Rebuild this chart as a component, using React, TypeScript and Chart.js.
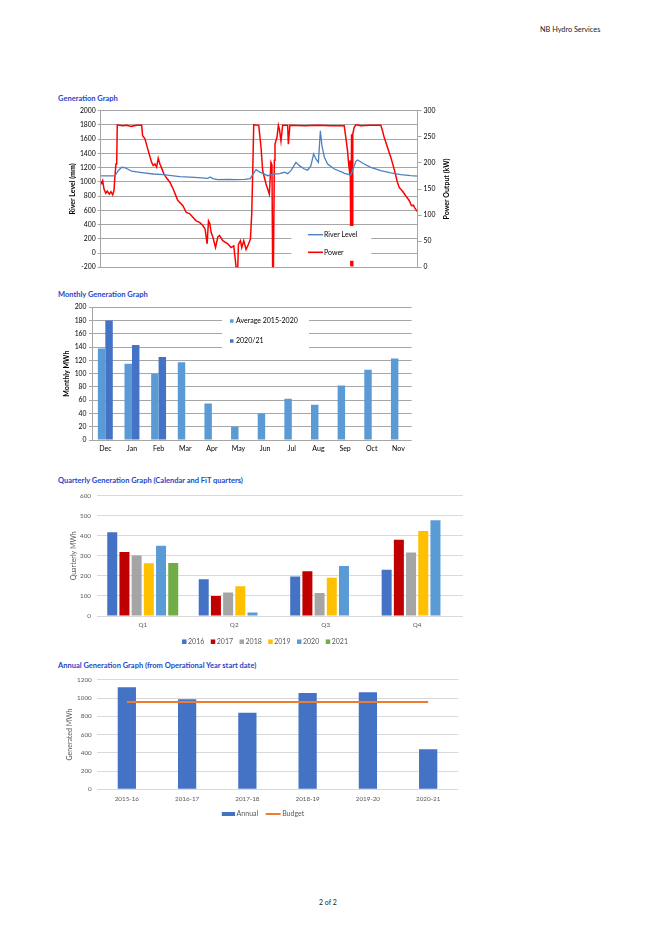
import React, { useEffect, useRef } from 'react';
import { Chart, registerables } from 'chart.js';

Chart.register(...registerables);
Chart.defaults.font.family = 'Lato, "DejaVu Sans", sans-serif';

// ---------------- Generation graph (time in days across the period) ----------------
const riverDays = [0, 16.4, 20.2, 24.2, 27.9, 35.7, 45.2, 60.5, 72, 91.2, 108.1, 123.4, 126, 129.1, 134.9, 146.4, 156, 165.6, 172.5, 175.1, 179, 182.9, 186.6, 192.4, 200.1, 206.2, 211.6, 215.4, 219.2, 225, 228.9, 234.6, 238.4, 242.2, 245.3, 248, 250.8, 253.1, 254.9, 257.7, 261.5, 269.2, 278.7, 280.6, 288.2, 294, 296, 303.6, 311.2, 322.7, 334.2, 345.7, 357.2, 365];
const riverLevelMm = [1085, 1085, 1157, 1205, 1200, 1150, 1135, 1111, 1102, 1073, 1064, 1050, 1068, 1045, 1031, 1036, 1031, 1036, 1045, 1101, 1171, 1140, 1120, 1087, 1111, 1115, 1135, 1115, 1157, 1275, 1228, 1181, 1165, 1228, 1392, 1322, 1275, 1719, 1508, 1345, 1251, 1181, 1135, 1120, 1097, 1289, 1307, 1251, 1205, 1157, 1125, 1102, 1087, 1082];

const powerDays = [0, 1.2, 2.3, 3.8, 5.8, 7.6, 9.9, 11.8, 13.8, 15.3, 16.4, 17.6, 18.4, 19.1, 25, 30, 35, 41.4, 47.2, 48.3, 51, 54.8, 58.7, 60.5, 62.5, 64.4, 66.3, 68.2, 70.2, 72.8, 75.9, 79.7, 83.5, 87.4, 88.9, 94.7, 98.5, 102.4, 106.2, 110, 113.9, 117.7, 120.3, 122.6, 124.2, 125.7, 127.2, 129.2, 132.3, 134.9, 136.9, 140.7, 146.4, 150.2, 153.3, 154.8, 156, 157.9, 158.7, 161, 162.5, 164.8, 167.5, 170.2, 172.5, 174, 175.2, 176.3, 182.1, 184.7, 186.6, 190.4, 194.3, 196.2, 197.3, 198.1, 199, 200.1, 200.8, 203.1, 204.7, 205.9, 207.7, 209.6, 215.4, 216.2, 218, 235, 250, 265, 280.6, 282.4, 284.4, 285.5, 286.4, 287.5, 288.2, 289, 289.6, 290.4, 292.1, 294, 300, 310, 322.7, 324.6, 326.6, 330.4, 334.2, 338.1, 341.9, 343.9, 347.6, 351.4, 355.4, 358, 360.3, 361.8, 363.4, 365];
const powerKw = [165, 161, 166, 150, 142, 146, 140, 145, 139, 147, 175, 198, 198, 273, 271, 272, 270, 272, 272, 252, 246, 223, 201, 195, 198, 192, 209, 198, 190, 179, 171, 163, 150, 134, 128, 118, 105, 103, 96, 89, 86, 80, 73, 45, 89, 84, 67, 58, 38, 58, 61, 51, 45, 38, 41, 19, 0, 0, 44, 51, 38, 51, 34, 44, 54, 102, 185, 273, 272, 230, 185, 160, 140, 201, 196, 0, 0, 205, 236, 249, 272, 265, 242, 272, 272, 236, 272, 271, 272, 271, 271, 249, 223, 201, 188, 205, 2, 255, 3, 255, 268, 273, 271, 272, 272, 262, 249, 230, 211, 188, 163, 153, 146, 137, 128, 118, 119, 114, 110, 107];

// ---------------- Monthly generation ----------------
const months = ['Dec', 'Jan', 'Feb', 'Mar', 'Apr', 'May', 'Jun', 'Jul', 'Aug', 'Sep', 'Oct', 'Nov'];
const avgMonthlyMwh = [138, 115, 100, 117, 55, 20, 40, 62, 53, 82, 106, 123];
const monthly2020_21Mwh = [180, 143, 125, null, null, null, null, null, null, null, null, null];

// ---------------- Quarterly generation ----------------
const quarters = ['Q1', 'Q2', 'Q3', 'Q4'];
const q2016 = [418, 183, 197, 231];
const q2017 = [320, 100, 223, 380];
const q2018 = [302, 117, 115, 317];
const q2019 = [263, 148, 191, 424];
const q2020 = [350, 17, 250, 478];
const q2021 = [265, null, null, null];

// ---------------- Annual generation ----------------
const opYears = ['2015-16', '2016-17', '2017-18', '2018-19', '2019-20', '2020-21'];
const annualMwh = [1117, 986, 838, 1055, 1062, 440];
const budgetMwh = [957, 957, 957, 957, 957, 957];

const FONT = 'Lato, "DejaVu Sans", sans-serif';
const plain = (v: any) => String(v);

type LegendItem = { ds: number; kind: 'line' | 'rect'; w: number; h: number; x?: number; y?: number };
type LegendCfg = {
  id: string;
  box?: { left: number; top: number; right: number; bottom: number };
  items: LegendItem[];
  row?: { centerX: number; y: number; gap: number };
  fontSize: number;
  color: string;
  textGap: number;
};

function makeLegend(cfg: LegendCfg) {
  return {
    id: cfg.id,
    afterDatasetsDraw(chart: any) {
      const ctx = chart.ctx;
      ctx.save();
      if (cfg.box) {
        ctx.fillStyle = '#ffffff';
        ctx.fillRect(cfg.box.left, cfg.box.top, cfg.box.right - cfg.box.left, cfg.box.bottom - cfg.box.top);
      }
      ctx.font = `${cfg.fontSize}px ${FONT}`;
      ctx.textBaseline = 'middle';
      ctx.textAlign = 'left';
      const dsets = chart.data.datasets;
      const entries = cfg.items.map((it) => {
        const d = dsets[it.ds];
        const col = (it.kind === 'line' ? d.borderColor : d.backgroundColor) as string;
        return { ...it, label: d.label as string, color: col };
      });
      if (cfg.row) {
        const widths = entries.map((e) => e.w + cfg.textGap + ctx.measureText(e.label).width);
        const total = widths.reduce((a, b) => a + b, 0) + cfg.row.gap * (entries.length - 1);
        let x = cfg.row.centerX - total / 2;
        entries.forEach((e, i) => {
          e.x = x;
          e.y = cfg.row!.y;
          x += widths[i] + cfg.row!.gap;
        });
      }
      entries.forEach((e) => {
        const x = e.x as number;
        const y = e.y as number;
        if (e.kind === 'line') {
          ctx.strokeStyle = e.color;
          ctx.lineWidth = e.h;
          ctx.beginPath();
          ctx.moveTo(x, y);
          ctx.lineTo(x + e.w, y);
          ctx.stroke();
        } else {
          ctx.fillStyle = e.color;
          ctx.fillRect(x, y - e.h / 2, e.w, e.h);
        }
        ctx.fillStyle = cfg.color;
        ctx.fillText(e.label, x + e.w + cfg.textGap, y);
      });
      ctx.restore();
    },
  };
}

function makeSideTitle(id: string, text: string, offsetRight: number, size: number) {
  return {
    id,
    afterDraw(chart: any) {
      const ctx = chart.ctx;
      const a = chart.chartArea;
      ctx.save();
      ctx.translate(a.right + offsetRight, (a.top + a.bottom) / 2);
      ctx.rotate(-Math.PI / 2);
      ctx.font = `bold ${size}px ${FONT}`;
      ctx.fillStyle = '#000';
      ctx.textAlign = 'center';
      ctx.textBaseline = 'middle';
      ctx.fillText(text, 0, 0);
      ctx.restore();
    },
  };
}

const Txt = ({ x, y, size, weight, color, children }: any) => (
  <div
    style={{
      position: 'absolute',
      left: x,
      top: y - size * 0.6,
      fontSize: size,
      lineHeight: `${size * 1.2}px`,
      fontWeight: weight || 'normal',
      color: color || '#333',
      whiteSpace: 'nowrap',
      fontFamily: FONT,
    }}
  >
    {children}
  </div>
);

const TITLE_BLUE = '#2347C7';
const DARK_GRID = '#A6A6A6';
const LIGHT_GRID = '#D9D9D9';
const GRAY_TEXT = '#595959';

export default function App() {
  const c1 = useRef<HTMLCanvasElement>(null);
  const c2 = useRef<HTMLCanvasElement>(null);
  const c3 = useRef<HTMLCanvasElement>(null);
  const c4 = useRef<HTMLCanvasElement>(null);

  useEffect(() => {
    const charts: Chart[] = [];

    // ---- Chart 1: Generation graph ----
    charts.push(
      new Chart(c1.current as HTMLCanvasElement, {
        type: 'line',
        data: {
          datasets: [
            {
              label: 'River Level',
              data: riverDays.map((d, i) => ({ x: d, y: riverLevelMm[i] })),
              yAxisID: 'y',
              borderColor: '#4F81BD',
              backgroundColor: '#4F81BD',
              borderWidth: 1.3,
              pointRadius: 0,
              tension: 0,
            },
            {
              label: 'Power',
              data: powerDays.map((d, i) => ({ x: d, y: powerKw[i] })),
              yAxisID: 'y1',
              borderColor: '#FF0000',
              backgroundColor: '#FF0000',
              borderWidth: 1.5,
              pointRadius: 0,
              tension: 0,
            },
          ],
        },
        options: {
          responsive: false,
          animation: false,
          events: [],
          layout: { padding: { left: 0, right: 0, top: 10.7, bottom: 7.7 } },
          plugins: { legend: { display: false }, tooltip: { enabled: false } },
          scales: {
            x: { type: 'linear', min: 0, max: 365, display: false },
            y: {
              position: 'left',
              min: -200,
              max: 2000,
              ticks: { stepSize: 200, color: '#000', font: { size: 6.8 }, padding: 2, callback: plain },
              grid: { color: DARK_GRID, tickLength: 3 },
              border: { display: true, color: DARK_GRID },
              title: { display: true, text: 'River Level (mm)', color: '#000', font: { size: 7, weight: 'bold' }, padding: { top: 12.1, bottom: 0 } },
              afterFit: (s: any) => { s.width = 44.7; },
            },
            y1: {
              position: 'right',
              min: 0,
              max: 300,
              ticks: { stepSize: 50, color: '#000', font: { size: 6.8 }, padding: 2, callback: plain },
              grid: { drawOnChartArea: false, color: DARK_GRID, tickLength: 4 },
              border: { display: true, color: DARK_GRID },
              afterFit: (s: any) => { s.width = 42.5; },
            },
          },
        } as any,
        plugins: [
          makeLegend({
            id: 'legend1',
            box: { left: 235.3, top: 126, right: 315.3, bottom: 160.8 },
            items: [
              { ds: 0, kind: 'line', w: 15, h: 1.4, x: 252, y: 134.7 },
              { ds: 1, kind: 'line', w: 15, h: 1.6, x: 252, y: 152.3 },
            ],
            fontSize: 7,
            color: '#000',
            textGap: 1,
          }),
          makeSideTitle('sideTitle1', 'Power Output (kW)', 28.8, 7),
        ],
      })
    );

    // ---- Chart 2: Monthly generation ----
    charts.push(
      new Chart(c2.current as HTMLCanvasElement, {
        type: 'bar',
        data: {
          labels: months,
          datasets: [
            { label: 'Average 2015-2020', data: avgMonthlyMwh, backgroundColor: '#5B9BD5', borderColor: '#5B9BD5' },
            { label: '2020/21', data: monthly2020_21Mwh, backgroundColor: '#4472C4', borderColor: '#4472C4' },
          ],
        },
        options: {
          responsive: false,
          animation: false,
          events: [],
          datasets: { bar: { categoryPercentage: 0.56, barPercentage: 1 } },
          layout: { padding: { left: 0, right: 6.3, top: 9.3, bottom: 0 } },
          plugins: { legend: { display: false }, tooltip: { enabled: false } },
          scales: {
            x: {
              grid: { display: false, drawTicks: false },
              border: { display: false },
              ticks: { color: '#000', font: { size: 7 }, padding: 5 },
              afterFit: (s: any) => { s.height = 18; },
            },
            y: {
              min: 0,
              max: 200,
              ticks: { stepSize: 20, color: '#000', font: { size: 6.8 }, padding: 2.5, callback: plain },
              grid: { color: DARK_GRID, tickLength: 3 },
              border: { display: true, color: DARK_GRID },
              title: { display: true, text: 'Monthly MWh', color: '#000', font: { size: 7, weight: 'bold' }, padding: { top: 6.5, bottom: 0 } },
              afterFit: (s: any) => { s.width = 36; },
            },
          },
        } as any,
        plugins: [
          makeLegend({
            id: 'legend2',
            box: { left: 166, top: 15, right: 253, bottom: 52 },
            items: [
              { ds: 0, kind: 'rect', w: 3.5, h: 3.5, x: 174, y: 23 },
              { ds: 1, kind: 'rect', w: 3.5, h: 3.5, x: 174, y: 43 },
            ],
            fontSize: 7,
            color: '#000',
            textGap: 2.5,
          }),
        ],
      })
    );

    // ---- Chart 3: Quarterly generation ----
    const yearCols = ['#4472C4', '#C00000', '#A5A5A5', '#FFC000', '#5B9BD5', '#70AD47'];
    const qSeries = [q2016, q2017, q2018, q2019, q2020, q2021];
    const qLabels = ['2016', '2017', '2018', '2019', '2020', '2021'];
    charts.push(
      new Chart(c3.current as HTMLCanvasElement, {
        type: 'bar',
        data: {
          labels: quarters,
          datasets: qSeries.map((s, i) => ({ label: qLabels[i], data: s, backgroundColor: yearCols[i], borderColor: yearCols[i] })),
        },
        options: {
          responsive: false,
          animation: false,
          events: [],
          datasets: { bar: { categoryPercentage: 0.8, barPercentage: 0.82 } },
          layout: { padding: { left: 0, right: 5.1, top: 8, bottom: 0 } },
          plugins: { legend: { display: false }, tooltip: { enabled: false } },
          scales: {
            x: {
              grid: { display: false, drawTicks: false },
              border: { display: false },
              ticks: { color: GRAY_TEXT, font: { size: 6.3 }, padding: 5 },
              afterFit: (s: any) => { s.height = 34; },
            },
            y: {
              min: 0,
              max: 600,
              ticks: { stepSize: 100, color: GRAY_TEXT, font: { size: 6.3 }, padding: 6, callback: plain },
              grid: { color: LIGHT_GRID, drawTicks: false },
              border: { display: false },
              title: { display: true, text: 'Quarterly MWh', color: GRAY_TEXT, font: { size: 7 }, padding: { top: 13.1, bottom: 0 } },
              afterFit: (s: any) => { s.width = 41; },
            },
          },
        } as any,
        plugins: [
          makeLegend({
            id: 'legend3',
            items: qLabels.map((_, i) => ({ ds: i, kind: 'rect' as const, w: 4.5, h: 4.5 })),
            row: { centerX: 209, y: 155.7, gap: 6.5 },
            fontSize: 7,
            color: GRAY_TEXT,
            textGap: 1.5,
          }),
        ],
      })
    );

    // ---- Chart 4: Annual generation ----
    charts.push(
      new Chart(c4.current as HTMLCanvasElement, {
        type: 'bar',
        data: {
          labels: opYears,
          datasets: [
            { type: 'bar', label: 'Annual', data: annualMwh, backgroundColor: '#4472C4', borderColor: '#4472C4', order: 2, categoryPercentage: 0.6, barPercentage: 0.505 } as any,
            { type: 'line', label: 'Budget', data: budgetMwh, borderColor: '#ED7D31', backgroundColor: '#ED7D31', borderWidth: 2, pointRadius: 0, order: 1 } as any,
          ],
        },
        options: {
          responsive: false,
          animation: false,
          events: [],
          layout: { padding: { left: 0, right: 5.7, top: 8, bottom: 0 } },
          plugins: { legend: { display: false }, tooltip: { enabled: false } },
          scales: {
            x: {
              grid: { display: false, drawTicks: false },
              border: { display: false },
              ticks: { color: GRAY_TEXT, font: { size: 6.3 }, padding: 6 },
              afterFit: (s: any) => { s.height = 33.7; },
            },
            y: {
              min: 0,
              max: 1200,
              ticks: { stepSize: 200, color: GRAY_TEXT, font: { size: 6.3 }, padding: 5, callback: plain },
              grid: { color: LIGHT_GRID, drawTicks: false },
              border: { display: false },
              title: { display: true, text: 'Generated MWh', color: GRAY_TEXT, font: { size: 7 }, padding: { top: 9.8, bottom: 0 } },
              afterFit: (s: any) => { s.width = 40.7; },
            },
          },
        } as any,
        plugins: [
          makeLegend({
            id: 'legend4',
            items: [
              { ds: 0, kind: 'rect', w: 13.3, h: 4 },
              { ds: 1, kind: 'line', w: 15, h: 2 },
            ],
            row: { centerX: 207, y: 143, gap: 7.5 },
            fontSize: 7,
            color: GRAY_TEXT,
            textGap: 1.5,
          }),
        ],
      })
    );

    return () => charts.forEach((c) => c.destroy());
  }, []);

  const cv = (left: number, top: number, w: number, h: number) => ({
    position: 'absolute' as const,
    left,
    top,
    width: w,
    height: h,
  });

  return (
    <div style={{ position: 'absolute', left: 0, top: 0, width: 659, height: 933, background: '#fff', overflow: 'hidden' }}>
      <Txt x={540} y={30} size={7.3} color="#222">NB Hydro Services</Txt>

      <Txt x={58} y={98} size={7.5} weight="bold" color={TITLE_BLUE}>Generation Graph</Txt>
      <canvas ref={c1} width={404} height={175} style={cv(56, 100, 404, 175)} />

      <Txt x={58} y={294.3} size={7.5} weight="bold" color={TITLE_BLUE}>Monthly Generation Graph</Txt>
      <canvas ref={c2} width={362} height={160} style={cv(56, 298, 362, 160)} />

      <Txt x={58} y={480.7} size={7.5} weight="bold" color={TITLE_BLUE}>Quarterly Generation Graph (Calendar and FiT quarters)</Txt>
      <canvas ref={c3} width={412} height={164} style={cv(56, 486, 412, 164)} />

      <Txt x={58} y={665.7} size={7.5} weight="bold" color={TITLE_BLUE}>Annual Generation Graph (from Operational Year start date)</Txt>
      <canvas ref={c4} width={408} height={152} style={cv(56, 671, 408, 152)} />

      <Txt x={319} y={902} size={7} color="#222">2 of 2</Txt>
    </div>
  );
}
